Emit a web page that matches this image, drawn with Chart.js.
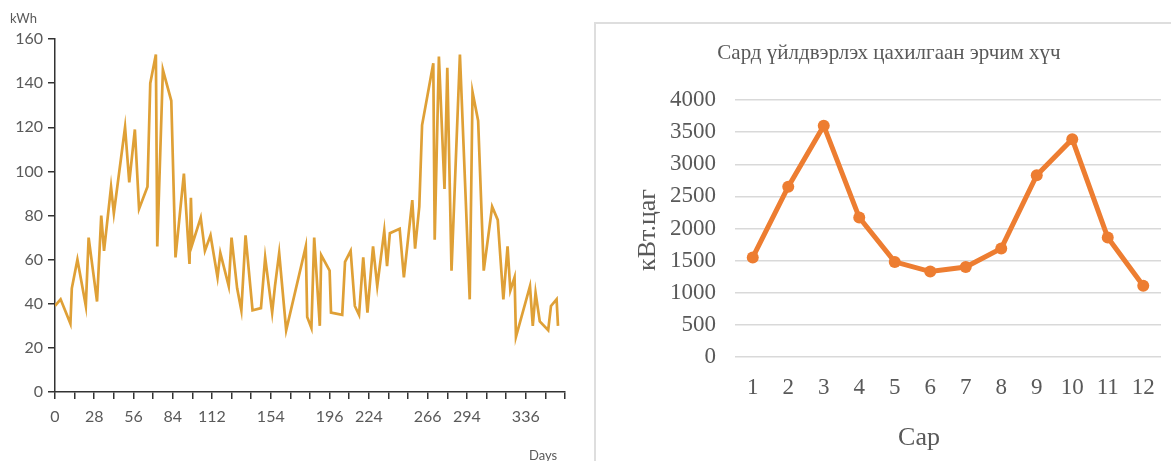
<!DOCTYPE html>
<html>
<head>
<meta charset="utf-8">
<script src="https://cdn.jsdelivr.net/npm/chart.js@4.4.1/dist/chart.umd.min.js"></script>
<style>
   body { margin: 0; background: #fff; width: 1171px; height: 461px; overflow: hidden; position: relative; }
   #daily { position: absolute; left: 0; top: 0; }
   #box { position: absolute; left: 594px; top: 22px; width: 620px; height: 500px; border: 2px solid #dedede; }
   #monthly { position: absolute; left: 596px; top: 24px; }
</style>
</head>
<body>
<canvas id="daily" width="585" height="461"></canvas>
<div id="box"></div>
<canvas id="monthly" width="575" height="437"></canvas>
<script>
'use strict';

//DATA - daily production (left)
var days = [0, 4, 11, 12, 16, 22, 24, 30, 33, 35, 40, 42, 50, 53, 57, 60, 66, 68, 72, 73,
   77, 83, 86, 92, 96, 97, 98, 104, 107, 111, 116, 118, 124, 126, 130, 133, 136, 141, 147, 150,
   155, 157, 160, 165, 179, 180, 183, 185, 189, 190, 196, 197, 205, 207, 211, 214, 217, 220, 223, 227,
   230, 235, 237, 239, 246, 249, 255, 257, 260, 262, 266, 270, 271, 274, 278, 280, 283, 289, 296, 298,
   302, 306, 312, 316, 320, 323, 325, 328, 329, 339, 341, 343, 346, 352, 354, 358, 359];
var kwh = [39, 42, 31, 47, 60, 39, 70, 41, 80, 64, 93, 81, 120, 95, 119, 83, 93, 140, 153, 66,
   146, 132, 61, 99, 58, 88, 67, 79, 64, 71, 52, 63, 48, 70, 47, 37, 71, 37, 38, 61,
   36, 48, 63, 28, 66, 34, 29, 70, 30, 62, 55, 36, 35, 59, 64, 39, 35, 61, 36, 66,
   48, 73, 57, 72, 74, 52, 87, 65, 84, 121, 135, 149, 69, 152, 92, 147, 55, 153, 42, 136,
   123, 55, 84, 78, 42, 66, 46, 52, 25, 48, 30, 45, 32, 28, 39, 42, 30];
var dayTickLabels = [0, 28, 56, 84, 112, 154, 196, 224, 266, 294, 336];

//DATA - monthly production (right)
var months = ['1', '2', '3', '4', '5', '6', '7', '8', '9', '10', '11', '12'];
var monthKwh = [1550, 2650, 3600, 2170, 1480, 1330, 1400, 1690, 2830, 3390, 1860, 1110];

(function () {

   //LEFT CHART
   var axisCol = '#333';
   var tickCol = '#5a5a5a';

   var dailyText = {
      id: 'dailyText',
      afterDraw: function (c) {
         var ctx = c.ctx;
         ctx.save();
         ctx.fillStyle = tickCol;
         ctx.font = '13px Lato';
         ctx.textAlign = 'left';
         ctx.textBaseline = 'middle';
         ctx.fillText('kWh', 10, 19);
         ctx.fillText('Days', 529, 456);
         ctx.restore();
      }
   };

   var points = [];
   for (var i = 0; i < days.length; i++) {
      points.push({ x: days[i], y: kwh[i] });
   }

   new Chart(document.querySelector('#daily'), {
      type: 'line',
      data: {
         datasets: [{
            data: points,
            borderColor: '#dfa036',
            borderWidth: 2.7,
            pointRadius: 0,
            tension: 0,
            fill: false
         }]
      },
      options: {
         responsive: false,
         animation: false,
         layout: { padding: { top: 39, right: 20, left: 0, bottom: 0 } },
         plugins: { legend: { display: false }, tooltip: { enabled: false } },
         scales: {
            x: {
               type: 'linear',
               min: 0,
               max: 364,
               afterFit: function (s) { s.height = 69; },
               grid: { drawOnChartArea: false, drawTicks: true, tickLength: 7, color: axisCol, lineWidth: 1.5 },
               border: { color: axisCol, width: 1.5 },
               ticks: {
                  stepSize: 14,
                  autoSkip: false,
                  maxRotation: 0,
                  padding: 8,
                  color: tickCol,
                  font: { family: 'Lato', size: 16 },
                  callback: function (v) {
                     return dayTickLabels.indexOf(v) >= 0 ? String(v) : '';
                  }
               }
            },
            y: {
               min: 0,
               max: 160,
               afterFit: function (s) { s.width = 55; },
               grid: { drawOnChartArea: false, drawTicks: true, tickLength: 7, color: axisCol, lineWidth: 1.5 },
               border: { color: axisCol, width: 1.5 },
               ticks: { stepSize: 20, padding: 5, color: tickCol, font: { family: 'Lato', size: 16 } }
            }
         }
      },
      plugins: [dailyText]
   });

   //RIGHT CHART
   var serif = '"Liberation Serif", "DejaVu Serif", serif';
   var grey = '#595959';

   var monthlyText = {
      id: 'monthlyText',
      afterDraw: function (c) {
         var ctx = c.ctx;
         ctx.save();
         ctx.fillStyle = grey;
         ctx.textAlign = 'center';
         ctx.textBaseline = 'middle';
         ctx.font = '21px ' + serif;
         ctx.fillText('Сард үйлдвэрлэх цахилгаан эрчим хүч', 293, 29);
         ctx.font = '26px ' + serif;
         ctx.fillText('Сар', 323, 414);
         ctx.translate(52, 206);
         ctx.rotate(-Math.PI / 2);
         ctx.fillText('кВт.цаг', 0, 0);
         ctx.restore();
      }
   };

   new Chart(document.querySelector('#monthly'), {
      type: 'line',
      data: {
         labels: months,
         datasets: [{
            data: monthKwh,
            borderColor: '#ed7d31',
            backgroundColor: '#ed7d31',
            borderWidth: 5,
            pointRadius: 6,
            pointBorderWidth: 0,
            tension: 0
         }]
      },
      options: {
         responsive: false,
         animation: false,
         layout: { padding: { top: 76, right: 10, left: 0, bottom: 0 } },
         plugins: { legend: { display: false }, tooltip: { enabled: false } },
         scales: {
            x: {
               offset: true,
               afterFit: function (s) { s.height = 104; },
               grid: { display: false },
               border: { display: false },
               ticks: { padding: 9, color: grey, font: { family: serif, size: 23 } }
            },
            y: {
               min: 0,
               max: 4000,
               afterFit: function (s) { s.width = 139; },
               grid: { color: '#d9d9d9', lineWidth: 1.5, drawTicks: false },
               border: { display: false },
               ticks: {
                  stepSize: 500,
                  padding: 19,
                  color: grey,
                  font: { family: serif, size: 23 },
                  callback: function (v) { return String(v); }
               }
            }
         }
      },
      plugins: [monthlyText]
   });

})();
</script>
</body>
</html>
